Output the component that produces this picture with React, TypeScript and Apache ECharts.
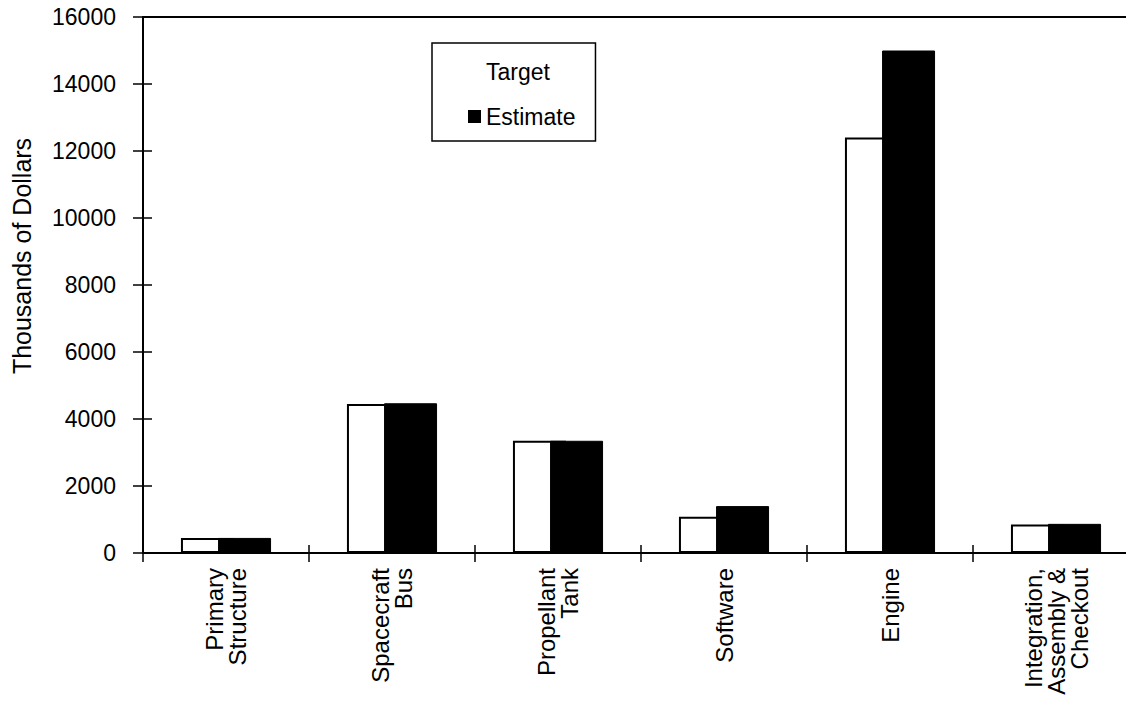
import React, { useEffect, useRef } from "react";
import * as echarts from "echarts";

const categories = [
  "Primary\nStructure",
  "Spacecraft\nBus",
  "Propellant\nTank",
  "Software",
  "Engine",
  "Integration,\nAssembly &\nCheckout",
];
const targetValues = [450, 4450, 3350, 1080, 12400, 850];
const estimateValues = [450, 4470, 3350, 1400, 15000, 870];
const yTicks = { min: 0, max: 16000, interval: 2000 };
const yTitle = "Thousands of Dollars";
const seriesNames = ["Target", "Estimate"];

const FONT = "'Liberation Sans', Arial, sans-serif";

export default function App() {
  const ref = useRef<HTMLDivElement>(null);
  useEffect(() => {
    if (!ref.current) return;
    const chart = echarts.init(ref.current, undefined, { renderer: "svg" });
    chart.setOption({
      animation: false,
      backgroundColor: "#fff",
      grid: {
        left: 143,
        top: 17,
        width: 996,
        bottom: 707 - 553,
        outerBoundsMode: "none",
        containLabel: false,
        show: true,
        borderColor: "#000",
        borderWidth: 2,
        backgroundColor: "transparent",
      },
      legend: {
        left: 432,
        top: 43,
        orient: "vertical",
        align: "left",
        selectedMode: false,
        backgroundColor: "#fff",
        borderColor: "#000",
        borderWidth: 1.5,
        padding: [16, 20, 12, 36],
        itemWidth: 13,
        itemHeight: 13,
        itemGap: 20,
        icon: "rect",
        textStyle: { fontFamily: FONT, fontSize: 23, color: "#000", lineHeight: 25 },
        data: [
          { name: seriesNames[0], itemStyle: { color: "#fff", borderWidth: 0 } },
          { name: seriesNames[1], itemStyle: { color: "#000", borderWidth: 0 } },
        ],
      },
      xAxis: [
        {
          type: "category",
          data: categories,
          position: "bottom",
          axisLine: { show: true, lineStyle: { color: "#000", width: 2 } },
          axisTick: { show: true, length: 9, lineStyle: { color: "#000", width: 1.5 } },
          axisLabel: {
            rotate: 90,
            margin: 15,
            fontFamily: FONT,
            fontSize: 24,
            lineHeight: 23,
            color: "#000",
            interval: 0,
          },
          splitLine: { show: false },
        },
        {
          type: "category",
          data: categories,
          position: "bottom",
          axisLine: { show: false },
          axisTick: { show: true, inside: true, length: 8, lineStyle: { color: "#000", width: 1.5 } },
          axisLabel: { show: false },
          splitLine: { show: false },
        },
      ],
      yAxis: [
        {
          type: "value",
          min: yTicks.min,
          max: yTicks.max,
          interval: yTicks.interval,
          axisLine: { show: true, lineStyle: { color: "#000", width: 2 } },
          axisTick: { show: true, length: 10, lineStyle: { color: "#000", width: 1.5 } },
          axisLabel: {
            margin: 27,
            fontFamily: FONT,
            fontSize: 23,
            color: "#000",
            formatter: (v: number) => String(v),
          },
          splitLine: { show: false },
        },
        {
          type: "value",
          min: yTicks.min,
          max: yTicks.max,
          interval: yTicks.interval,
          position: "left",
          axisLine: { show: false },
          axisTick: { show: true, inside: true, length: 9, lineStyle: { color: "#000", width: 1.5 } },
          axisLabel: { show: false },
          splitLine: { show: false },
        },
      ],
      graphic: [
        {
          type: "text",
          x: 22,
          y: 256,
          rotation: Math.PI / 2,
          style: {
            text: yTitle,
            fontFamily: FONT,
            fontSize: 25,
            fill: "#000",
            align: "center",
            verticalAlign: "middle",
          },
        },
      ],
      series: [
        {
          name: seriesNames[0],
          type: "bar",
          data: targetValues,
          barWidth: 53,
          barGap: "-30%",
          itemStyle: { color: "#fff", borderColor: "#000", borderWidth: 2 },
        },
        {
          name: seriesNames[1],
          type: "bar",
          data: estimateValues,
          barWidth: 53,
          barGap: "-30%",
          itemStyle: { color: "#000", borderColor: "#000", borderWidth: 1 },
        },
      ],
    });
    return () => chart.dispose();
  }, []);
  return (
    <div
      ref={ref}
      style={{ position: "absolute", left: 0, top: 0, width: 1126, height: 707 }}
    />
  );
}
